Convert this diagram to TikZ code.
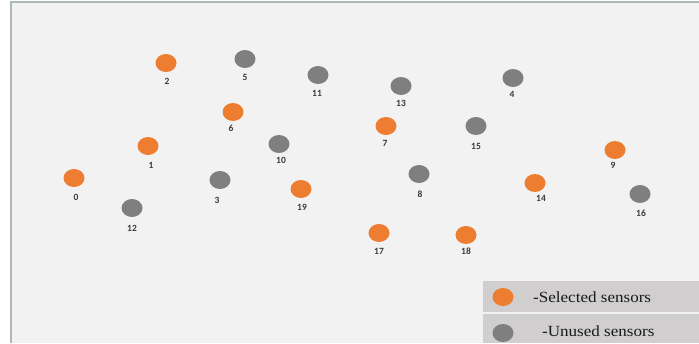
\documentclass[tikz,border=0pt]{standalone}
\usepackage{fontspec}
\setmainfont{Carlito}
\newfontfamily\legfont[FakeStretch=1.1]{Liberation Serif}
\usetikzlibrary{shapes.geometric}
\definecolor{sel}{HTML}{ED7D31}
\definecolor{unu}{HTML}{7F7F7F}
\definecolor{bg}{HTML}{F2F2F2}
\definecolor{framec}{HTML}{ADB9B9}
\definecolor{leg}{HTML}{D0CECE}
\definecolor{lab}{HTML}{3A3A3A}
\begin{document}
\begin{tikzpicture}[x=1pt,y=-1pt,
 sensor/.style={ellipse, minimum width=21pt, minimum height=18pt, inner sep=0pt},
 selsensor/.style={sensor, fill=sel},
 unusensor/.style={sensor, fill=unu},
 num/.style={font=\bfseries\fontsize{9.5}{10}\selectfont, text=lab, inner sep=0pt},
 legtext/.style={font=\legfont\fontsize{15.5}{17}\selectfont, text=black!90, anchor=west, inner sep=0pt}]
\useasboundingbox (0,0) rectangle (699,343);
\fill[white] (0,0) rectangle (699,343);
\fill[bg] (11,2) rectangle (699,343);
\draw[framec, line width=1.5pt] (11,343) -- (11,2) -- (699,2);
% legend
\fill[leg] (483,281) rectangle (699,311.5);
\fill[leg] (483,313.5) rectangle (699,343);
\node[selsensor] (ls) at (503,297) {};
\node[unusensor] (lu) at (503,333) {};
\node[legtext] (lst) at (533,297) {-Selected sensors};
\node[legtext] (lut) at (542,331) {-Unused sensors};
% sensors
\foreach \n/\x/\y/\lx/\ly/\s in {
 0/74/178/76/197/selsensor,
 1/148/146/151/165/selsensor,
 2/166/63/167/81/selsensor,
 3/220/180/217/200/unusensor,
 4/513/78/512/94/unusensor,
 5/245/59/245/77/unusensor,
 6/233/112/231/128/selsensor,
 7/386/126/385/143/selsensor,
 8/419/174/420/194/unusensor,
 9/615/150/613/165/selsensor,
 10/279/144/281/160/unusensor,
 11/318/75/317/93/unusensor,
 12/132/208/132/228/unusensor,
 13/401/86/401/103/unusensor,
 14/535/183/541/198/selsensor,
 15/476/126/476/146/unusensor,
 16/640/194/641/213/unusensor,
 17/379/233/379/251/selsensor,
 18/466/235/466/251/selsensor,
 19/301/189/302/207/selsensor}
{
 \node[\s] (s\n) at (\x,\y) {};
 \node[num] (l\n) at (\lx,\ly) {\n};
}
\end{tikzpicture}
\end{document}
